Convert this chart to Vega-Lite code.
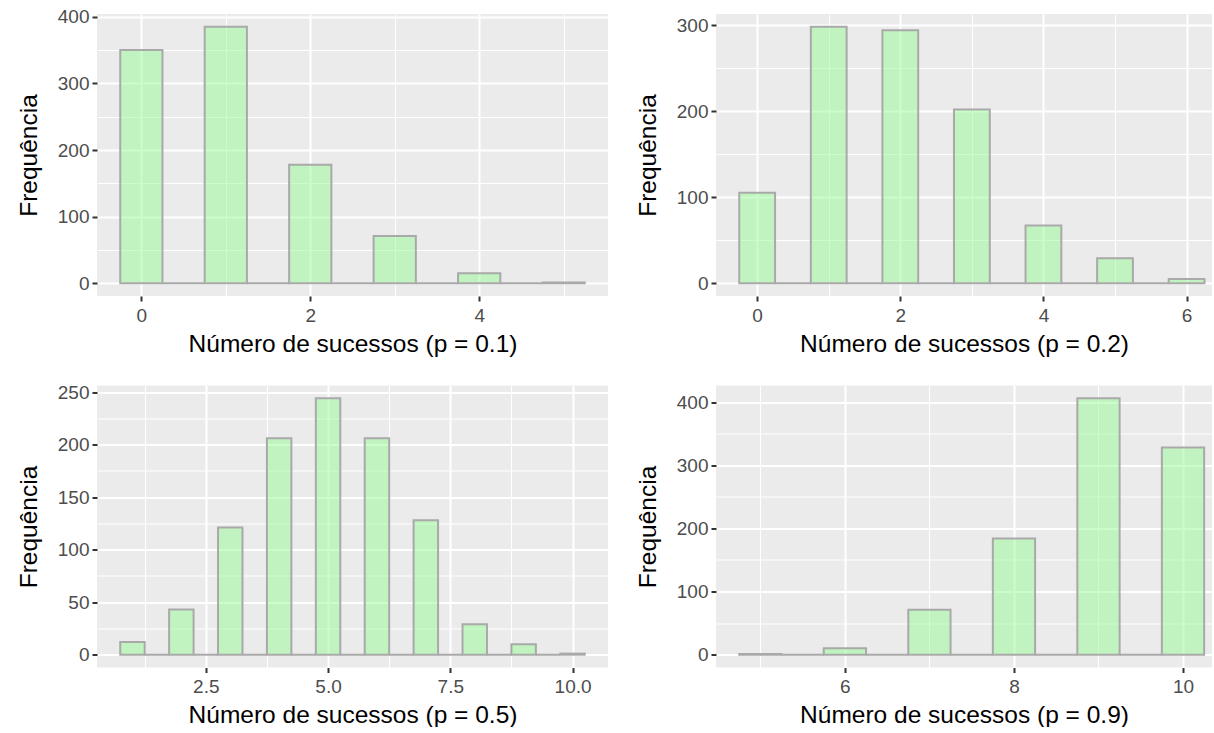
{
  "$schema": "https://vega.github.io/schema/vega-lite/v6.json",
  "background": "#FFFFFF",
  "padding": {"left": 16, "top": 7, "right": 0, "bottom": 0},
  "datasets": {
    "p01": [
      {"bin_start": -0.25, "bin_end": 0.25, "count": 350},
      {"bin_start": 0.25, "bin_end": 0.75, "count": 0},
      {"bin_start": 0.75, "bin_end": 1.25, "count": 385},
      {"bin_start": 1.25, "bin_end": 1.75, "count": 0},
      {"bin_start": 1.75, "bin_end": 2.25, "count": 178},
      {"bin_start": 2.25, "bin_end": 2.75, "count": 0},
      {"bin_start": 2.75, "bin_end": 3.25, "count": 71},
      {"bin_start": 3.25, "bin_end": 3.75, "count": 0},
      {"bin_start": 3.75, "bin_end": 4.25, "count": 15},
      {"bin_start": 4.25, "bin_end": 4.75, "count": 0},
      {"bin_start": 4.75, "bin_end": 5.25, "count": 1}
    ],
    "p02": [
      {"bin_start": -0.25, "bin_end": 0.25, "count": 105},
      {"bin_start": 0.25, "bin_end": 0.75, "count": 0},
      {"bin_start": 0.75, "bin_end": 1.25, "count": 298},
      {"bin_start": 1.25, "bin_end": 1.75, "count": 0},
      {"bin_start": 1.75, "bin_end": 2.25, "count": 294},
      {"bin_start": 2.25, "bin_end": 2.75, "count": 0},
      {"bin_start": 2.75, "bin_end": 3.25, "count": 202},
      {"bin_start": 3.25, "bin_end": 3.75, "count": 0},
      {"bin_start": 3.75, "bin_end": 4.25, "count": 67},
      {"bin_start": 4.25, "bin_end": 4.75, "count": 0},
      {"bin_start": 4.75, "bin_end": 5.25, "count": 29},
      {"bin_start": 5.25, "bin_end": 5.75, "count": 0},
      {"bin_start": 5.75, "bin_end": 6.25, "count": 5}
    ],
    "p05": [
      {"bin_start": 0.75, "bin_end": 1.25, "count": 12},
      {"bin_start": 1.25, "bin_end": 1.75, "count": 0},
      {"bin_start": 1.75, "bin_end": 2.25, "count": 43},
      {"bin_start": 2.25, "bin_end": 2.75, "count": 0},
      {"bin_start": 2.75, "bin_end": 3.25, "count": 121},
      {"bin_start": 3.25, "bin_end": 3.75, "count": 0},
      {"bin_start": 3.75, "bin_end": 4.25, "count": 206},
      {"bin_start": 4.25, "bin_end": 4.75, "count": 0},
      {"bin_start": 4.75, "bin_end": 5.25, "count": 244},
      {"bin_start": 5.25, "bin_end": 5.75, "count": 0},
      {"bin_start": 5.75, "bin_end": 6.25, "count": 206},
      {"bin_start": 6.25, "bin_end": 6.75, "count": 0},
      {"bin_start": 6.75, "bin_end": 7.25, "count": 128},
      {"bin_start": 7.25, "bin_end": 7.75, "count": 0},
      {"bin_start": 7.75, "bin_end": 8.25, "count": 29},
      {"bin_start": 8.25, "bin_end": 8.75, "count": 0},
      {"bin_start": 8.75, "bin_end": 9.25, "count": 10},
      {"bin_start": 9.25, "bin_end": 9.75, "count": 0},
      {"bin_start": 9.75, "bin_end": 10.25, "count": 1}
    ],
    "p09": [
      {"bin_start": 4.75, "bin_end": 5.25, "count": 1},
      {"bin_start": 5.25, "bin_end": 5.75, "count": 0},
      {"bin_start": 5.75, "bin_end": 6.25, "count": 10},
      {"bin_start": 6.25, "bin_end": 6.75, "count": 0},
      {"bin_start": 6.75, "bin_end": 7.25, "count": 71},
      {"bin_start": 7.25, "bin_end": 7.75, "count": 0},
      {"bin_start": 7.75, "bin_end": 8.25, "count": 184},
      {"bin_start": 8.25, "bin_end": 8.75, "count": 0},
      {"bin_start": 8.75, "bin_end": 9.25, "count": 406},
      {"bin_start": 9.25, "bin_end": 9.75, "count": 0},
      {"bin_start": 9.75, "bin_end": 10.25, "count": 328}
    ]
  },
  "columns": 2,
  "bounds": "flush",
  "spacing": {"row": 89.5, "column": 108},
  "concat": [
    {
      "width": 511, "height": 282,
      "data": {"name": "p01"},
      "layer": [
        {
          "mark": {"type": "rect", "opacity": 0},
          "encoding": {
            "x": {"field": "bin_start", "type": "quantitative", "axis": {"orient": "bottom", "grid": true, "values": [1, 3, 5], "gridWidth": 1, "labels": false, "ticks": false, "title": null}},
            "x2": {"field": "bin_end"},
            "y": {"field": "count", "type": "quantitative", "axis": {"orient": "left", "grid": true, "values": [50, 150, 250, 350], "gridWidth": 1, "labels": false, "ticks": false, "title": null}},
            "y2": {"datum": 0}
          }
        },
        {
          "mark": {"type": "rect", "fill": "#98FB98", "fillOpacity": 0.5, "stroke": "#A9A9A9", "strokeWidth": 2},
          "encoding": {
            "x": {"field": "bin_start", "type": "quantitative", "scale": {"domain": [-0.525, 5.525], "nice": false, "zero": false}, "axis": {"orient": "bottom", "grid": true, "values": [0, 2, 4], "format": "d", "title": "Número de sucessos (p = 0.1)"}},
            "x2": {"field": "bin_end"},
            "y": {"field": "count", "type": "quantitative", "scale": {"domain": [-19.25, 404.25], "nice": false, "zero": false}, "axis": {"orient": "left", "grid": true, "values": [0, 100, 200, 300, 400], "format": "d", "title": "Frequência"}},
            "y2": {"datum": 0}
          }
        }
      ],
      "resolve": {"axis": {"x": "independent", "y": "independent"}}
    },
    {
      "width": 496, "height": 282,
      "data": {"name": "p02"},
      "layer": [
        {
          "mark": {"type": "rect", "opacity": 0},
          "encoding": {
            "x": {"field": "bin_start", "type": "quantitative", "axis": {"orient": "bottom", "grid": true, "values": [1, 3, 5], "gridWidth": 1, "labels": false, "ticks": false, "title": null}},
            "x2": {"field": "bin_end"},
            "y": {"field": "count", "type": "quantitative", "axis": {"orient": "left", "grid": true, "values": [50, 150, 250], "gridWidth": 1, "labels": false, "ticks": false, "title": null}},
            "y2": {"datum": 0}
          }
        },
        {
          "mark": {"type": "rect", "fill": "#98FB98", "fillOpacity": 0.5, "stroke": "#A9A9A9", "strokeWidth": 2},
          "encoding": {
            "x": {"field": "bin_start", "type": "quantitative", "scale": {"domain": [-0.575, 6.355], "nice": false, "zero": false}, "axis": {"orient": "bottom", "grid": true, "values": [0, 2, 4, 6], "format": "d", "title": "Número de sucessos (p = 0.2)"}},
            "x2": {"field": "bin_end"},
            "y": {"field": "count", "type": "quantitative", "scale": {"domain": [-14.9, 312.9], "nice": false, "zero": false}, "axis": {"orient": "left", "grid": true, "values": [0, 100, 200, 300], "format": "d", "title": "Frequência"}},
            "y2": {"datum": 0}
          }
        }
      ],
      "resolve": {"axis": {"x": "independent", "y": "independent"}}
    },
    {
      "width": 511, "height": 282,
      "data": {"name": "p05"},
      "layer": [
        {
          "mark": {"type": "rect", "opacity": 0},
          "encoding": {
            "x": {"field": "bin_start", "type": "quantitative", "axis": {"orient": "bottom", "grid": true, "values": [1.25, 3.75, 6.25, 8.75], "gridWidth": 1, "labels": false, "ticks": false, "title": null}},
            "x2": {"field": "bin_end"},
            "y": {"field": "count", "type": "quantitative", "axis": {"orient": "left", "grid": true, "values": [25, 75, 125, 175, 225], "gridWidth": 1, "labels": false, "ticks": false, "title": null}},
            "y2": {"datum": 0}
          }
        },
        {
          "mark": {"type": "rect", "fill": "#98FB98", "fillOpacity": 0.5, "stroke": "#A9A9A9", "strokeWidth": 2},
          "encoding": {
            "x": {"field": "bin_start", "type": "quantitative", "scale": {"domain": [0.275, 10.725], "nice": false, "zero": false}, "axis": {"orient": "bottom", "grid": true, "values": [2.5, 5, 7.5, 10], "format": ".1f", "title": "Número de sucessos (p = 0.5)"}},
            "x2": {"field": "bin_end"},
            "y": {"field": "count", "type": "quantitative", "scale": {"domain": [-12.2, 256.2], "nice": false, "zero": false}, "axis": {"orient": "left", "grid": true, "values": [0, 50, 100, 150, 200, 250], "format": "d", "title": "Frequência"}},
            "y2": {"datum": 0}
          }
        }
      ],
      "resolve": {"axis": {"x": "independent", "y": "independent"}}
    },
    {
      "width": 496, "height": 282,
      "data": {"name": "p09"},
      "layer": [
        {
          "mark": {"type": "rect", "opacity": 0},
          "encoding": {
            "x": {"field": "bin_start", "type": "quantitative", "axis": {"orient": "bottom", "grid": true, "values": [5, 7, 9], "gridWidth": 1, "labels": false, "ticks": false, "title": null}},
            "x2": {"field": "bin_end"},
            "y": {"field": "count", "type": "quantitative", "axis": {"orient": "left", "grid": true, "values": [50, 150, 250, 350], "gridWidth": 1, "labels": false, "ticks": false, "title": null}},
            "y2": {"datum": 0}
          }
        },
        {
          "mark": {"type": "rect", "fill": "#98FB98", "fillOpacity": 0.5, "stroke": "#A9A9A9", "strokeWidth": 2},
          "encoding": {
            "x": {"field": "bin_start", "type": "quantitative", "scale": {"domain": [4.475, 10.343], "nice": false, "zero": false}, "axis": {"orient": "bottom", "grid": true, "values": [6, 8, 10], "format": "d", "title": "Número de sucessos (p = 0.9)"}},
            "x2": {"field": "bin_end"},
            "y": {"field": "count", "type": "quantitative", "scale": {"domain": [-20.3, 426.3], "nice": false, "zero": false}, "axis": {"orient": "left", "grid": true, "values": [0, 100, 200, 300, 400], "format": "d", "title": "Frequência"}},
            "y2": {"datum": 0}
          }
        }
      ],
      "resolve": {"axis": {"x": "independent", "y": "independent"}}
    }
  ],
  "config": {
    "font": "Liberation Sans",
    "view": {"fill": "#EBEBEB", "stroke": null},
    "axis": {
      "domain": false,
      "grid": true,
      "gridColor": "#FFFFFF",
      "gridWidth": 2,
      "tickColor": "#333333",
      "tickWidth": 2,
      "tickSize": 5,
      "labelColor": "#4D4D4D",
      "labelFontSize": 19,
      "labelPadding": 3,
      "labelFlush": false,
      "labelOverlap": false,
      "labelBound": false,
      "titleFontSize": 24.5,
      "titleFontWeight": "normal",
      "titleColor": "#000000"
    },
    "axisX": {"titlePadding": 7, "labelPadding": 5},
    "axisY": {"titlePadding": 16}
  }
}
